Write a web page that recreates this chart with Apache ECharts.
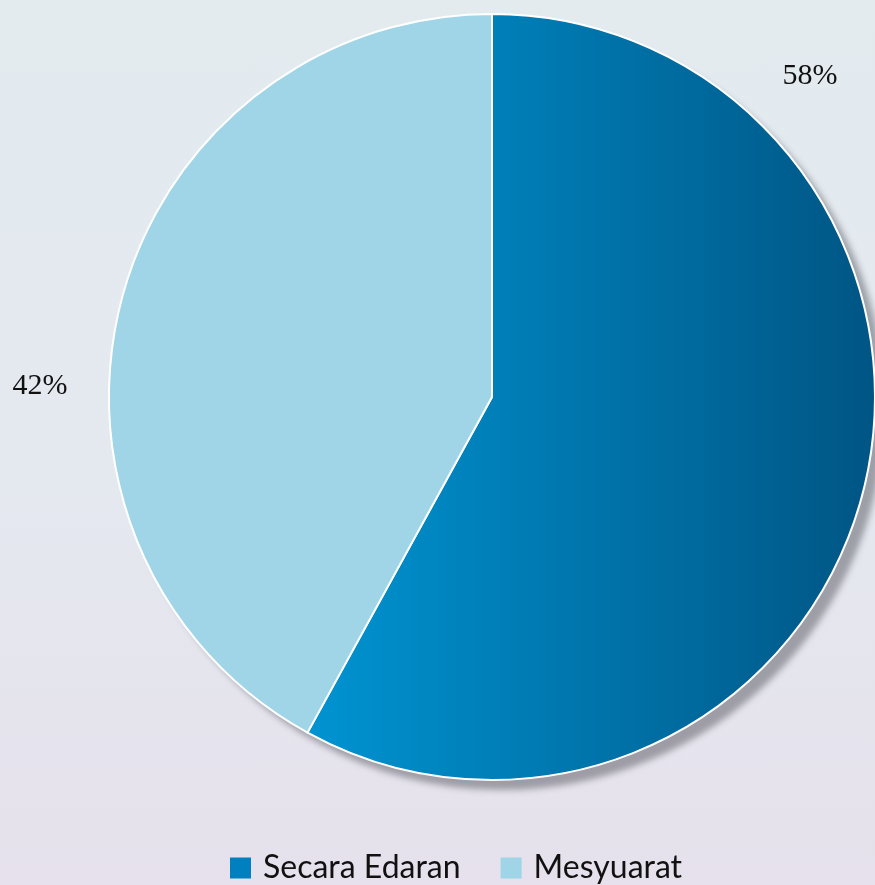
<!DOCTYPE html>
<html>
<head>
<meta charset="utf-8">
<script src="https://cdn.jsdelivr.net/npm/echarts@6/dist/echarts.min.js"></script>
<style>
html,body{margin:0;padding:0;}
#chart{width:875px;height:885px;background:linear-gradient(180deg,#e3ebef 0%,#e4e9f0 50%,#e6e1ec 100%);}
</style>
</head>
<body>
<div id="chart"></div>
<script>
const categories = ['Secara Edaran', 'Mesyuarat'];
const values = [58, 42];
const labelTexts = ['58%', '42%'];

const labelPos = [[810, 76], [40, 386]];
const legendColors = ['#0080be', '#9fd5e6'];

const chart = echarts.init(document.getElementById('chart'), null, {renderer: 'canvas'});
const colors = [
  new echarts.graphic.LinearGradient(0, 0, 1, 0, [
    {offset: 0, color: '#0094d2'},
    {offset: 1, color: '#005584'}
  ]),
  '#9fd5e6'
];
const common = {
  type: 'pie',
  center: [492, 397],
  radius: [0, 383],
  startAngle: 90,
  clockwise: true,
  emphasis: {disabled: true},
  labelLine: {show: false}
};
chart.setOption({
  animation: false,
  legend: {
    top: 847,
    left: 225,
    icon: 'rect',
    itemWidth: 21,
    itemHeight: 21,
    itemGap: 40,
    textStyle: {fontFamily: 'Lato', fontSize: 32, color: '#111', padding: [0, 0, 0, 7]},
    data: categories.map((c, i) => ({name: c, itemStyle: {color: legendColors[i]}}))
  },
  series: [Object.assign({}, common, {
    name: 'shadow',
    z: 1,
    silent: true,
    data: categories.map((c, i) => ({name: c, value: values[i], itemStyle: {color: legendColors[i]}})),
    itemStyle: {
      borderWidth: 0,
      shadowColor: 'rgba(70,70,80,0.45)',
      shadowBlur: 6,
      shadowOffsetX: 10,
      shadowOffsetY: 10
    },
    label: {show: false}
  }), Object.assign({}, common, {
    name: 'main',
    z: 2,
    data: categories.map((c, i) => ({
      name: c,
      value: values[i],
      itemStyle: {color: colors[i]},
      label: {formatter: labelTexts[i]}
    })),
    itemStyle: {borderColor: '#ffffff', borderWidth: 2},
    label: {
      show: true,
      position: 'inside',
      fontFamily: 'Liberation Serif',
      fontSize: 30,
      color: '#111'
    },
    labelLayout: function (p) {
      const pos = labelPos[p.dataIndex];
      return {x: pos[0], y: pos[1], align: 'center', verticalAlign: 'middle'};
    }
  })]
});
</script>
</body>
</html>
